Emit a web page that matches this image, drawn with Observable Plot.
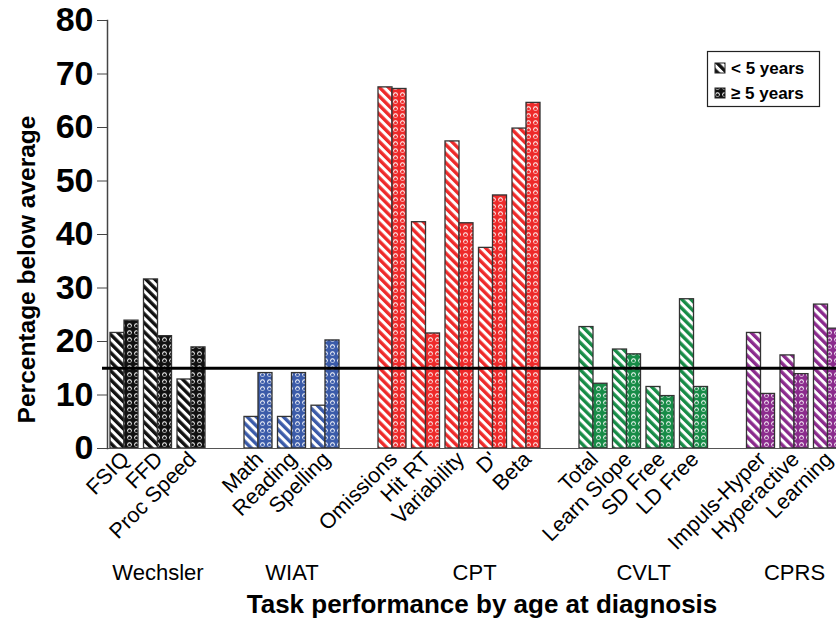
<!DOCTYPE html>
<html><head><meta charset="utf-8">
<script src="https://cdn.jsdelivr.net/npm/d3@7"></script>
<script src="https://cdn.jsdelivr.net/npm/@observablehq/plot@0.6"></script>
<style>
body{margin:0;background:#fff;}
svg{font-family:Arial,"Liberation Sans",sans-serif;}
</style>
</head><body><div id="chart"></div>
<script>
const groups = ["Wechsler", "WIAT", "CPT", "CVLT", "CPRS"];
const groupColors = ["#111111", "#3b5ba9", "#ee2a2a", "#178c47", "#8b2b8d"];
const tasks = ["FSIQ", "FFD", "Proc Speed", "Math", "Reading", "Spelling",
  "Omissions", "Hit RT", "Variability", "D'", "Beta",
  "Total", "Learn Slope", "SD Free", "LD Free",
  "Impuls-Hyper", "Hyperactive", "Learning"];
const taskGroup = [0, 0, 0, 1, 1, 1, 2, 2, 2, 2, 2, 3, 3, 3, 3, 4, 4, 4];
const under5 = [21.6, 31.6, 12.9, 5.9, 5.9, 8.0, 67.5, 42.3, 57.4, 37.5, 59.8, 22.7, 18.5, 11.5, 27.9, 21.6, 17.4, 26.9];
const over5  = [23.9, 21.0, 18.9, 14.1, 14.1, 20.2, 67.2, 21.5, 42.1, 47.3, 64.6, 12.1, 17.6, 9.8, 11.5, 10.2, 13.9, 22.4];
const seriesNames = ["< 5 years", "\u2265 5 years"];
const referenceLine = 15;
const yTicks = [0, 10, 20, 30, 40, 50, 60, 70, 80];

// slot index: one empty slot between groups
const barFrac = 0.418;
const rows = tasks.map((t, i) => ({task: t, g: taskGroup[i], slot: i + taskGroup[i], under: under5[i], over: over5[i]}));
const groupRows = groups.map((name, g) => {
  const s = rows.filter(r => r.g === g).map(r => r.slot);
  return {name, center: d3.mean(s) + barFrac + (name === "CPT" ? 0.45 : 0)};
});

const plot = Plot.plot({
  width: 836, height: 625,
  marginLeft: 107, marginRight: 0, marginTop: 20, marginBottom: 177,
  x: {domain: [0, 22], range: [110, 847], axis: null},
  y: {domain: [0, 80], axis: null},
  color: {type: "identity"},
  marks: [
    Plot.rect(rows, {x1: "slot", x2: d => d.slot + barFrac, y1: 0, y2: "under",
      fill: d => `url(#stripe-${d.g})`, stroke: "#333", strokeWidth: 1.3}),
    Plot.rect(rows, {x1: d => d.slot + barFrac, x2: d => d.slot + 2 * barFrac, y1: 0, y2: "over",
      fill: d => `url(#dots-${d.g})`, stroke: "#333", strokeWidth: 1.3}),
    Plot.ruleY([0], {stroke: "#555", strokeWidth: 1.2}),
    Plot.frame({anchor: "left", stroke: "#444", strokeWidth: 1.5}),
    Plot.ruleY([referenceLine], {stroke: "#000", strokeWidth: 3, insetLeft: -5}),
    Plot.axisY({ticks: yTicks, tickSize: 10, tickPadding: 4, fontSize: 34, fontWeight: "bold",
      label: null, stroke: "#444", fill: "#000", tickFormat: d => String(d)}),
    Plot.text(rows, {x: d => d.slot + barFrac, text: "task", frameAnchor: "bottom",
      dx: 6, dy: 12, rotate: -45, textAnchor: "end", fontSize: 21.5, fill: "#000"}),
    Plot.text(groupRows, {x: "center", text: "name", frameAnchor: "bottom", dy: 131,
      fontSize: 22, fill: "#000"}),
    Plot.text(["Task performance by age at diagnosis"], {frameAnchor: "bottom", dx: 10, dy: 164,
      fontSize: 26, fontWeight: "bold", fill: "#000"}),
    Plot.text(["Percentage below average"], {frameAnchor: "left", textAnchor: "middle", dx: -80, dy: 35, rotate: -90,
      fontSize: 24.5, fontWeight: "bold", fill: "#000"})
  ]
});

const svg = d3.select(plot);
const defs = svg.insert("defs", ":first-child");
const patColors = groupColors.concat(["#111111"]);
patColors.forEach((c, g) => {
  const id = g < groupColors.length ? g : "legend";
  const s = defs.append("pattern").attr("id", `stripe-${id}`).attr("patternUnits", "userSpaceOnUse")
    .attr("width", 6.4).attr("height", 6.4).attr("patternTransform", "rotate(-45)");
  s.append("rect").attr("width", 6.4).attr("height", 6.4).attr("fill", "#fff");
  s.append("rect").attr("width", 3.4).attr("height", 6.4).attr("fill", c);
  const p = defs.append("pattern").attr("id", `dots-${id}`).attr("patternUnits", "userSpaceOnUse")
    .attr("width", 7).attr("height", 7);
  p.append("rect").attr("width", 7).attr("height", 7).attr("fill", c);
  p.append("circle").attr("cx", 3.5).attr("cy", 3.5).attr("r", 2.3).attr("fill", "#fff");
  p.append("circle").attr("cx", 3.5).attr("cy", 3.8).attr("r", 1.5).attr("fill", c);
});

// legend box
const lg = svg.append("g").attr("text-anchor", "start");
lg.append("rect").attr("x", 707.5).attr("y", 51.5).attr("width", 112).attr("height", 55)
  .attr("fill", "#fff").attr("stroke", "#222").attr("stroke-width", 1.2);
seriesNames.forEach((name, i) => {
  const y = 68 + i * 25;
  lg.append("rect").attr("x", 715).attr("y", y - 5).attr("width", 10).attr("height", 10)
    .attr("fill", i === 0 ? "url(#stripe-legend)" : "url(#dots-legend)").attr("stroke", "#222").attr("stroke-width", 1);
  lg.append("text").attr("x", 731).attr("y", y).attr("dy", "0.35em").attr("font-size", 17)
    .attr("font-weight", "bold").attr("fill", "#000").text(name);
});

document.getElementById("chart").appendChild(plot);
</script>
</body></html>
